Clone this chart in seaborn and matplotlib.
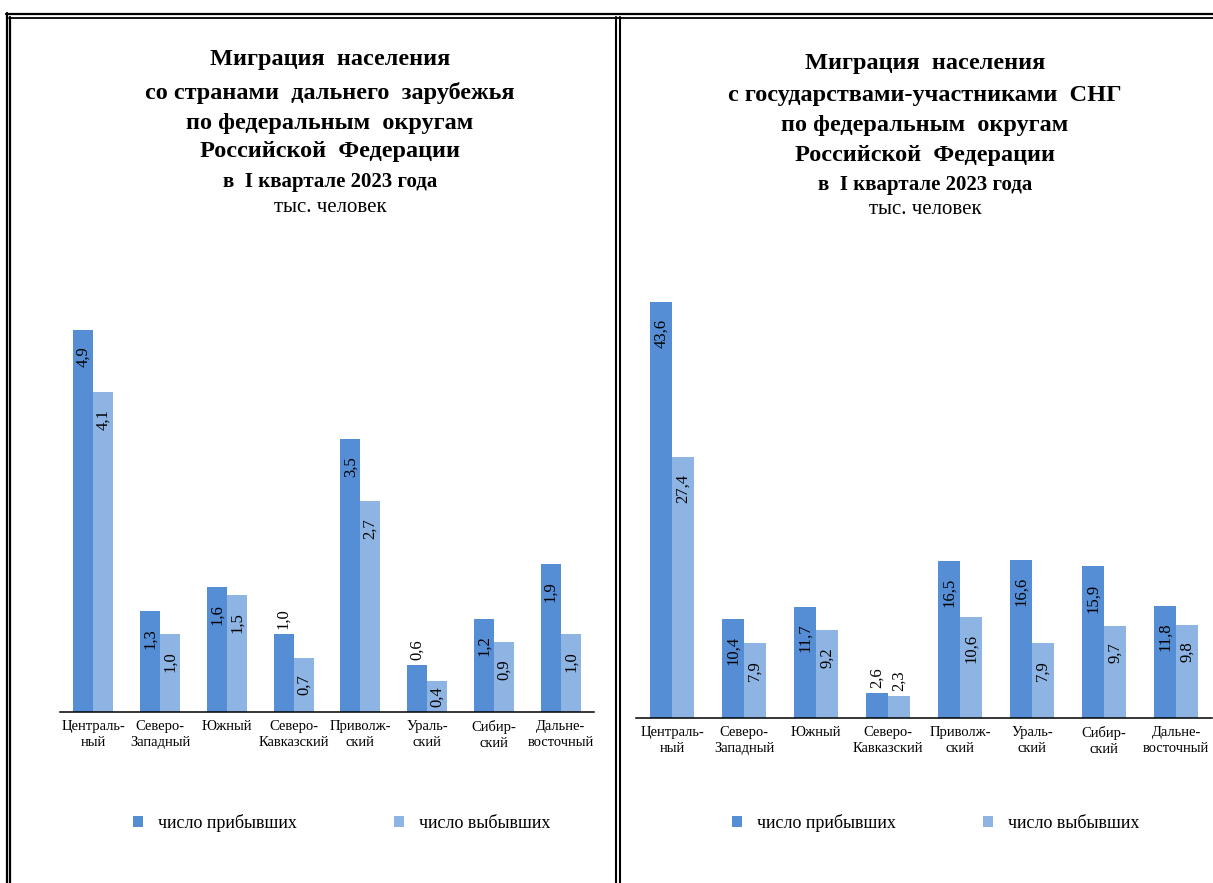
import matplotlib.pyplot as plt
import numpy as np
import pandas as pd
import seaborn as sns
from matplotlib.lines import Line2D

# Federal districts (tick labels)
okrugs = ["Централь-\nный", "Северо-\nЗападный", "Южный", "Северо-\nКавказский",
          "Приволж-\nский", "Ураль-\nский", "Сибир-\nский", "Дальне-\nвосточный"]
series_names = ["число прибывших", "число выбывших"]

# Migration with far-abroad countries, thousand people
far_arrived = [4.9, 1.3, 1.6, 1.0, 3.5, 0.6, 1.2, 1.9]
far_departed = [4.1, 1.0, 1.5, 0.7, 2.7, 0.4, 0.9, 1.0]

# Migration with CIS countries, thousand people
cis_arrived = [43.6, 10.4, 11.7, 2.6, 16.5, 16.6, 15.9, 11.8]
cis_departed = [27.4, 7.9, 9.2, 2.3, 10.6, 7.9, 9.7, 9.8]

far_title = ["Миграция  населения", "со странами  дальнего  зарубежья",
             "по федеральным  округам", "Российской  Федерации"]
cis_title = ["Миграция  населения", "с государствами-участниками  СНГ",
             "по федеральным  округам", "Российской  Федерации"]
period = "в  I квартале 2023 года"
units = "тыс. человек"

# labels drawn above the bar instead of inside: (series, district index)
far_outside = {(0, 3), (0, 5)}
cis_outside = {(0, 3), (1, 3)}

dark = "#558ED5"
light = "#8EB4E3"

sns.set_style("white")
plt.rcParams["font.family"] = ["Liberation Serif", "DejaVu Serif"]
plt.rcParams["text.color"] = "black"
plt.rcParams["xtick.color"] = "black"
plt.rcParams["xtick.labelcolor"] = "black"

W, H = 1213, 883
fig = plt.figure(figsize=(W / 100, H / 100), dpi=100)


def rect(x0, x1, y_top, y_base):
    return [x0 / W, 1 - y_base / H, (x1 - x0) / W, (y_base - y_top) / H]


def draw_panel(box, ymax, arrived, departed, outside, title, tx, ty, legend_xs):
    ax = fig.add_axes(box)
    df = pd.DataFrame({
        "Округ": okrugs * 2,
        "Значение": arrived + departed,
        "Показатель": [series_names[0]] * len(okrugs) + [series_names[1]] * len(okrugs),
    })
    sns.barplot(data=df, x="Округ", y="Значение", hue="Показатель",
                palette=[dark, light], saturation=1, width=0.6, linewidth=0,
                errorbar=None, ax=ax)
    ax.set_xlim(-0.5, len(okrugs) - 0.5)
    ax.set_ylim(0, ymax)
    ax.set_xlabel("")
    ax.set_ylabel("")
    ax.set_yticks([])
    for s in ["left", "top", "right"]:
        ax.spines[s].set_visible(False)
    ax.spines["bottom"].set_color("black")
    ax.spines["bottom"].set_linewidth(1.1)

    ax.set_xticks(np.arange(len(okrugs)), labels=okrugs, minor=True)
    ax.set_xticks(np.arange(len(okrugs) + 1) - 0.5, labels=[""] * (len(okrugs) + 1))
    ax.tick_params(axis="x", which="major", length=3.6, width=1.1, color="black", direction="out")
    ax.tick_params(axis="x", which="minor", length=0, pad=5.5, labelsize=10.5,
                   labelcolor="black")
    for t in ax.get_xticklabels(minor=True):
        t.set_linespacing(1.3)

    # value labels
    for si, cont in enumerate(ax.containers):
        for k, bar in enumerate(cont):
            v = bar.get_height()
            xc = bar.get_x() + bar.get_width() / 2
            txt = f"{v:.1f}".replace(".", ",")
            bar_px = ax.transData.transform((0, v))[1] - ax.transData.transform((0, 0))[1]
            if (si, k) in outside:
                ax.annotate(txt, (xc, v), xytext=(0, 5), textcoords="offset pixels",
                            rotation=90, ha="center", va="bottom", fontsize=12)
            elif bar_px < 40:
                ax.annotate(txt, (xc, 0), xytext=(0, 5), textcoords="offset pixels",
                            rotation=90, ha="center", va="bottom", fontsize=12)
            else:
                ax.annotate(txt, (xc, v), xytext=(0, -17), textcoords="offset pixels",
                            rotation=90, ha="center", va="top", fontsize=12)

    handles, labels = ax.get_legend_handles_labels()
    ax.get_legend().remove()
    for h, lab, lx in zip(handles, labels, legend_xs):
        fig.legend([h], [lab], loc="center left", bbox_to_anchor=(lx / W, 1 - 823 / H),
                   frameon=False, fontsize=13, handlelength=0.55, handleheight=0.55,
                   handletextpad=0.85, borderpad=0, borderaxespad=0)

    # titles
    ys = [ty, ty + 33, ty + 63, ty + 92]
    for line, y in zip(title, ys):
        fig.text(tx / W, 1 - y / H, line, ha="center", va="center",
                 fontsize=17.5, fontweight="bold")
    fig.text(tx / W, 1 - (ty + 122) / H, period, ha="center", va="center",
             fontsize=15, fontweight="bold")
    fig.text(tx / W, 1 - (ty + 147) / H, units, ha="center", va="center", fontsize=15)
    return ax


draw_panel(rect(60, 594, 300, 712.3), 5.28, far_arrived, far_departed, far_outside,
           far_title, 330, 60, [133, 394])
draw_panel(rect(636, 1212, 280, 718.3), 45.9, cis_arrived, cis_departed, cis_outside,
           cis_title, 925, 63, [732, 983])


# double-line frame
def fline(xs, ys, lw):
    fig.add_artist(Line2D([x / W for x in xs], [1 - y / H for y in ys],
                          transform=fig.transFigure, color="black", lw=lw))


fline([6, 1213], [14, 14], 1.6)
fline([9, 1213], [17.5, 17.5], 1.3)
fline([7, 7], [13, 883], 1.6)
fline([10, 10], [17, 883], 1.6)
fline([616, 616], [17, 883], 1.5)
fline([619.5, 619.5], [17, 883], 1.5)

fig.savefig("out.png", dpi=100)
